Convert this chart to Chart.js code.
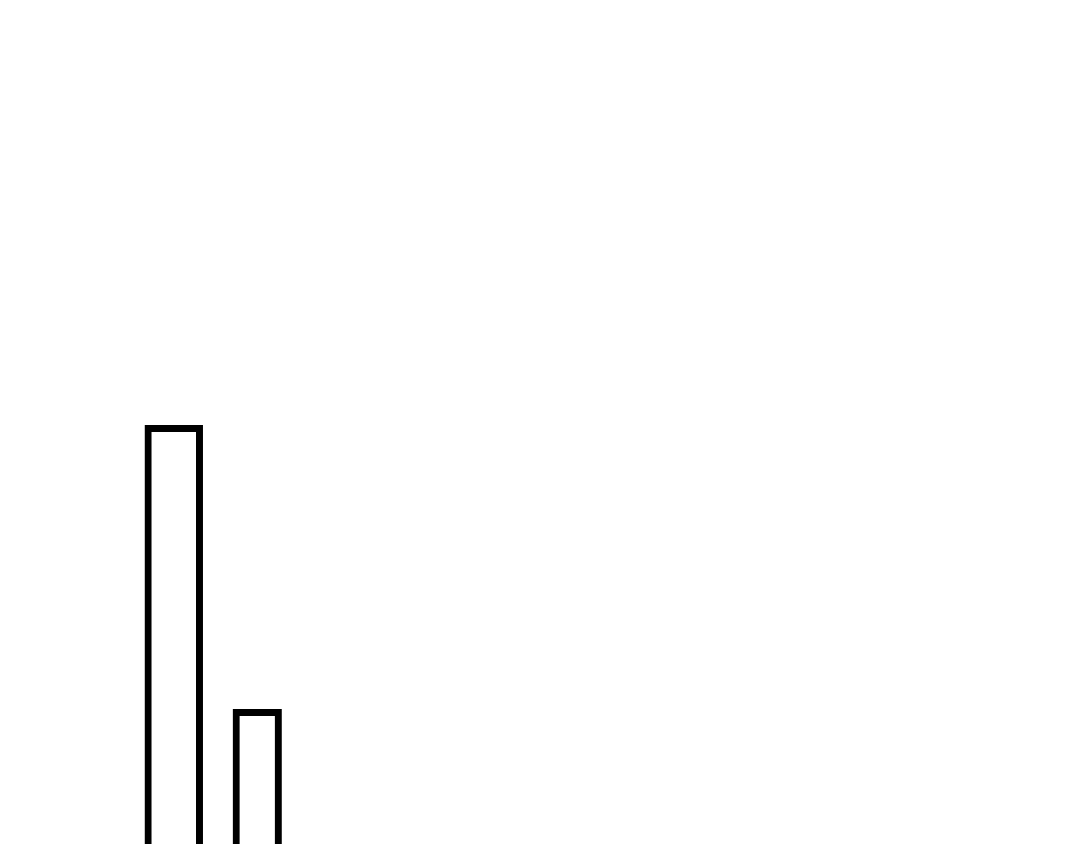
<!DOCTYPE html>
<html>
<head>
<meta charset="utf-8">
<script src="https://cdn.jsdelivr.net/npm/chart.js@4"></script>
<style>
  html, body { margin: 0; padding: 0; background: #ffffff; overflow: hidden; }
  #wrap { width: 1080px; height: 1000px; }
</style>
</head>
<body>
<div id="wrap"><canvas id="chart" width="1080" height="1000"></canvas></div>
<script>
const categories = ['A', 'B'];
const values = [57.5, 29.1];

// one dataset per bar so each bar can keep its own width
const barWidths = [0.7, 0.59];
const datasets = values.map(function (v, i) {
    return {
        data: categories.map(function (c, j) { return j === i ? v : null; }),
        backgroundColor: 'rgba(0,0,0,0)',
        borderColor: '#000000',
        borderWidth: 7,
        barPercentage: barWidths[i],
        categoryPercentage: 1.0
    };
});

const ctx = document.getElementById('chart').getContext('2d');
const myChart = new Chart(ctx, {
    type: 'bar',
    data: {
        labels: categories,
        datasets: datasets
    },
    options: {
        responsive: false,
        animation: false,
        devicePixelRatio: 1,
        grouped: false,
        layout: {
            padding: { left: 132, right: 781, top: 0, bottom: 0 }
        },
        plugins: {
            legend: { display: false },
            tooltip: { enabled: false }
        },
        scales: {
            x: { display: false, offset: true },
            y: { display: false, min: 0, max: 100 }
        }
    }
});
</script>
</body>
</html>
